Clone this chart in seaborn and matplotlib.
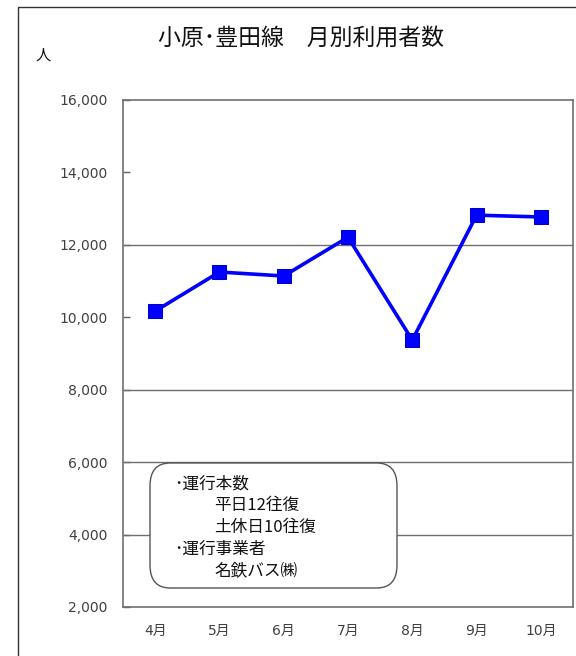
import numpy as np
import pandas as pd
import matplotlib.pyplot as plt
import seaborn as sns
from matplotlib.patches import FancyBboxPatch, Rectangle

months = ['4月', '5月', '6月', '7月', '8月', '9月', '10月']
riders = [10170, 11250, 11140, 12210, 9370, 12820, 12770]
y_ticks = [2000, 4000, 6000, 8000, 10000, 12000, 14000, 16000]
grid_at = [4000, 6000, 8000, 12000]
note_lines = ['･運行本数', '平日12往復', '土休日10往復', '･運行事業者', '名鉄バス㈱']

sns.set_theme(style='white')
plt.rcParams['font.family'] = ['Noto Sans CJK JP', 'DejaVu Sans']
tick_font = ['DejaVu Sans', 'Noto Sans CJK JP']

df = pd.DataFrame({'month': months, 'riders': riders})

fig = plt.figure(figsize=(5.76, 6.56), dpi=100)
ax = fig.add_axes([123 / 576, 1 - 607 / 656, 450 / 576, 507 / 656])

# outer chart frame (only top and left visible in the reference)
fig.add_artist(Rectangle((18 / 576, -0.1), 1.2, 1 - 7 / 656 + 0.1, transform=fig.transFigure,
                         fill=False, edgecolor='#333333', linewidth=1.0))

for g in grid_at:
    ax.axhline(g, color='#707070', linewidth=1.0, zorder=1)

sns.lineplot(data=df, x='month', y='riders', sort=False, ax=ax, color='#0000ff',
             linewidth=2.6, marker='s', markersize=9.5, markeredgecolor='#0000cc', zorder=3)

ax.set_xlim(-0.5, len(months) - 0.5)
ax.set_ylim(2000, 16000)
ax.set_yticks(y_ticks)
ax.set_yticklabels([f'{v:,}' for v in y_ticks], color='#404040', fontsize=10, family=tick_font)
ax.set_xticks(range(len(months)))
ax.set_xticklabels(months, color='#404040', fontsize=10, family=tick_font)
ax.set_xticks(np.arange(0.5, len(months) - 0.5, 1), minor=True)
ax.tick_params(axis='x', which='major', length=0, pad=12)
ax.tick_params(axis='x', which='minor', direction='in', length=5, color='#606060', width=1)
ax.tick_params(axis='y', direction='in', length=5, color='#606060', width=1, left=True, pad=11)
ax.set_xlabel('')
ax.set_ylabel('')
for s in ax.spines.values():
    s.set_color('#707070')
    s.set_linewidth(1.2)

fig.text(301 / 576, 1 - 38 / 656, '小原･豊田線　月別利用者数', ha='center', va='center', fontsize=16.5, color='#111111')
fig.text(43 / 576, 1 - 55 / 656, '人', ha='center', va='center', fontsize=11, color='#111111')

box = FancyBboxPatch((150 / 576, 1 - 588 / 656), 247 / 576, 125 / 656, transform=fig.transFigure,
                     boxstyle='round,pad=0,rounding_size=0.035', facecolor='white',
                     edgecolor='#555555', linewidth=1.0, zorder=5)
fig.add_artist(box)
for i, line in enumerate(note_lines):
    x = 174 if line.startswith('･') else 214
    fig.text(x / 576, 1 - (484 + i * 21.7) / 656, line, ha='left', va='center',
             fontsize=12, color='#111111', zorder=6)

fig.savefig('out.png', dpi=100)
